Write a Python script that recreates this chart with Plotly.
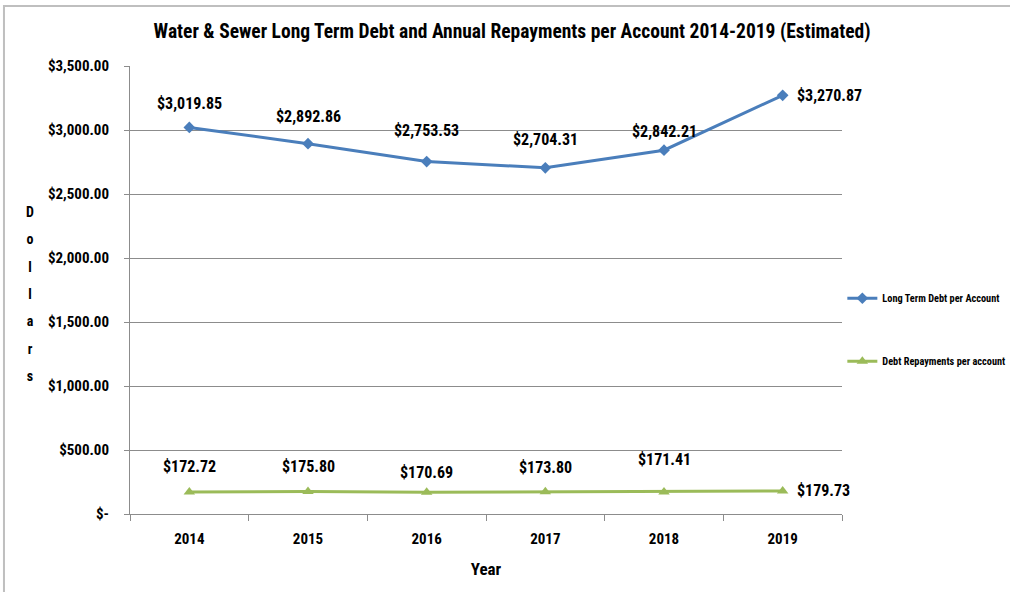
import plotly.graph_objects as go

# Series data
years = ["2014", "2015", "2016", "2017", "2018", "2019"]
long_term_debt = [3019.85, 2892.86, 2753.53, 2704.31, 2842.21, 3270.87]
debt_repayments = [172.72, 175.80, 170.69, 173.80, 171.41, 179.73]

# Y axis ticks
y_tick_vals = [0, 500, 1000, 1500, 2000, 2500, 3000, 3500]
y_tick_text = ["$-", "$500.00", "$1,000.00", "$1,500.00", "$2,000.00",
               "$2,500.00", "$3,000.00", "$3,500.00"]

FONT = "Liberation Sans Narrow, Arial Narrow, Roboto Condensed, sans-serif"
BLUE = "#4a7ebb"
GREEN = "#9bbb59"
GRID = "#8c8c8c"

# Vertical pixel offsets of the hand-placed value labels
debt_label_shift = [24, 27, 31, 28, 19, 0]
repay_label_shift = [25, 25, 20, 24, 33, 0]

fig = go.Figure()
fig.add_trace(go.Scatter(
    x=years, y=long_term_debt, mode="lines+markers",
    name="Long Term Debt per Account", legendgroup="a",
    line=dict(color=BLUE, width=3),
    marker=dict(symbol="diamond", size=9, color=BLUE),
))
fig.add_trace(go.Scatter(
    x=years, y=debt_repayments, mode="lines+markers",
    name="Debt Repayments per account", legendgroup="b",
    line=dict(color=GREEN, width=3),
    marker=dict(symbol="triangle-up", size=10, color=GREEN),
))


def money(v):
    return "${:,.2f}".format(v)


# Value labels: above each point, except the last one which sits to the right.
# Category positions are addressed by index on the category axis.
for series, shifts in ((long_term_debt, debt_label_shift),
                       (debt_repayments, repay_label_shift)):
    for i, v in enumerate(series):
        last = i == len(series) - 1
        fig.add_annotation(
            x=i, y=v, xref="x", yref="y", text=money(v), showarrow=False,
            xanchor="left" if last else "center",
            xshift=12 if last else 0,
            yshift=shifts[i],
            font=dict(family=FONT, size=16, color="#000000", weight="bold"),
        )

# Stacked vertical axis title
letters = "<br>".join(
    '<span style="font-size:14px">{}</span>'.format(c) for c in "Dollars")
fig.add_annotation(
    xref="paper", yref="paper", x=-0.14, y=0.49, text=letters,
    showarrow=False, xanchor="center", yanchor="middle",
    font=dict(family=FONT, size=21, color="#000000", weight="bold"),
)

# Outer chart border
fig.add_shape(
    type="rect", xref="paper", yref="paper",
    x0=-0.177, x1=1.3, y0=-0.2, y1=1.134,
    line=dict(color="#bfbfbf", width=2), layer="below",
)

fig.update_layout(
    width=1010, height=592,
    margin=dict(l=130, r=168, t=66, b=78, autoexpand=False),
    paper_bgcolor="white", plot_bgcolor="white",
    font=dict(family=FONT, color="#000000"),
    title=dict(
        text="Water & Sewer Long Term Debt and Annual Repayments per Account 2014-2019 (Estimated)",
        x=0.507, xanchor="center", y=0.947, yanchor="middle",
        font=dict(family=FONT, size=19.5, color="#000000", weight="bold"),
    ),
    legend=dict(
        xref="container", yref="container",
        x=0.834, xanchor="left", y=0.443, yanchor="middle",
        font=dict(family=FONT, size=10.3, color="#000000", weight="bold"),
        tracegroupgap=44, itemwidth=30, bgcolor="rgba(0,0,0,0)",
    ),
    showlegend=True,
)

fig.update_xaxes(
    type="category", range=[-0.5, 5.5],
    showline=True, linecolor=GRID, linewidth=1,
    ticks="outside", tickson="boundaries", ticklen=6, tickcolor=GRID,
    showgrid=False, ticklabelstandoff=11,
    tickfont=dict(family=FONT, size=15, color="#000000", weight="bold"),
    title=dict(text="Year", standoff=16,
               font=dict(family=FONT, size=17, color="#000000", weight="bold")),
)
fig.update_yaxes(
    range=[0, 3500], tickvals=y_tick_vals, ticktext=y_tick_text,
    showline=True, linecolor=GRID, linewidth=1,
    showgrid=True, gridcolor=GRID, gridwidth=1,
    ticks="outside", ticklen=5, tickcolor=GRID,
    ticklabelstandoff=12, zeroline=False,
    tickfont=dict(family=FONT, size=15, color="#000000", weight="bold"),
)

fig.write_html("out.html")
